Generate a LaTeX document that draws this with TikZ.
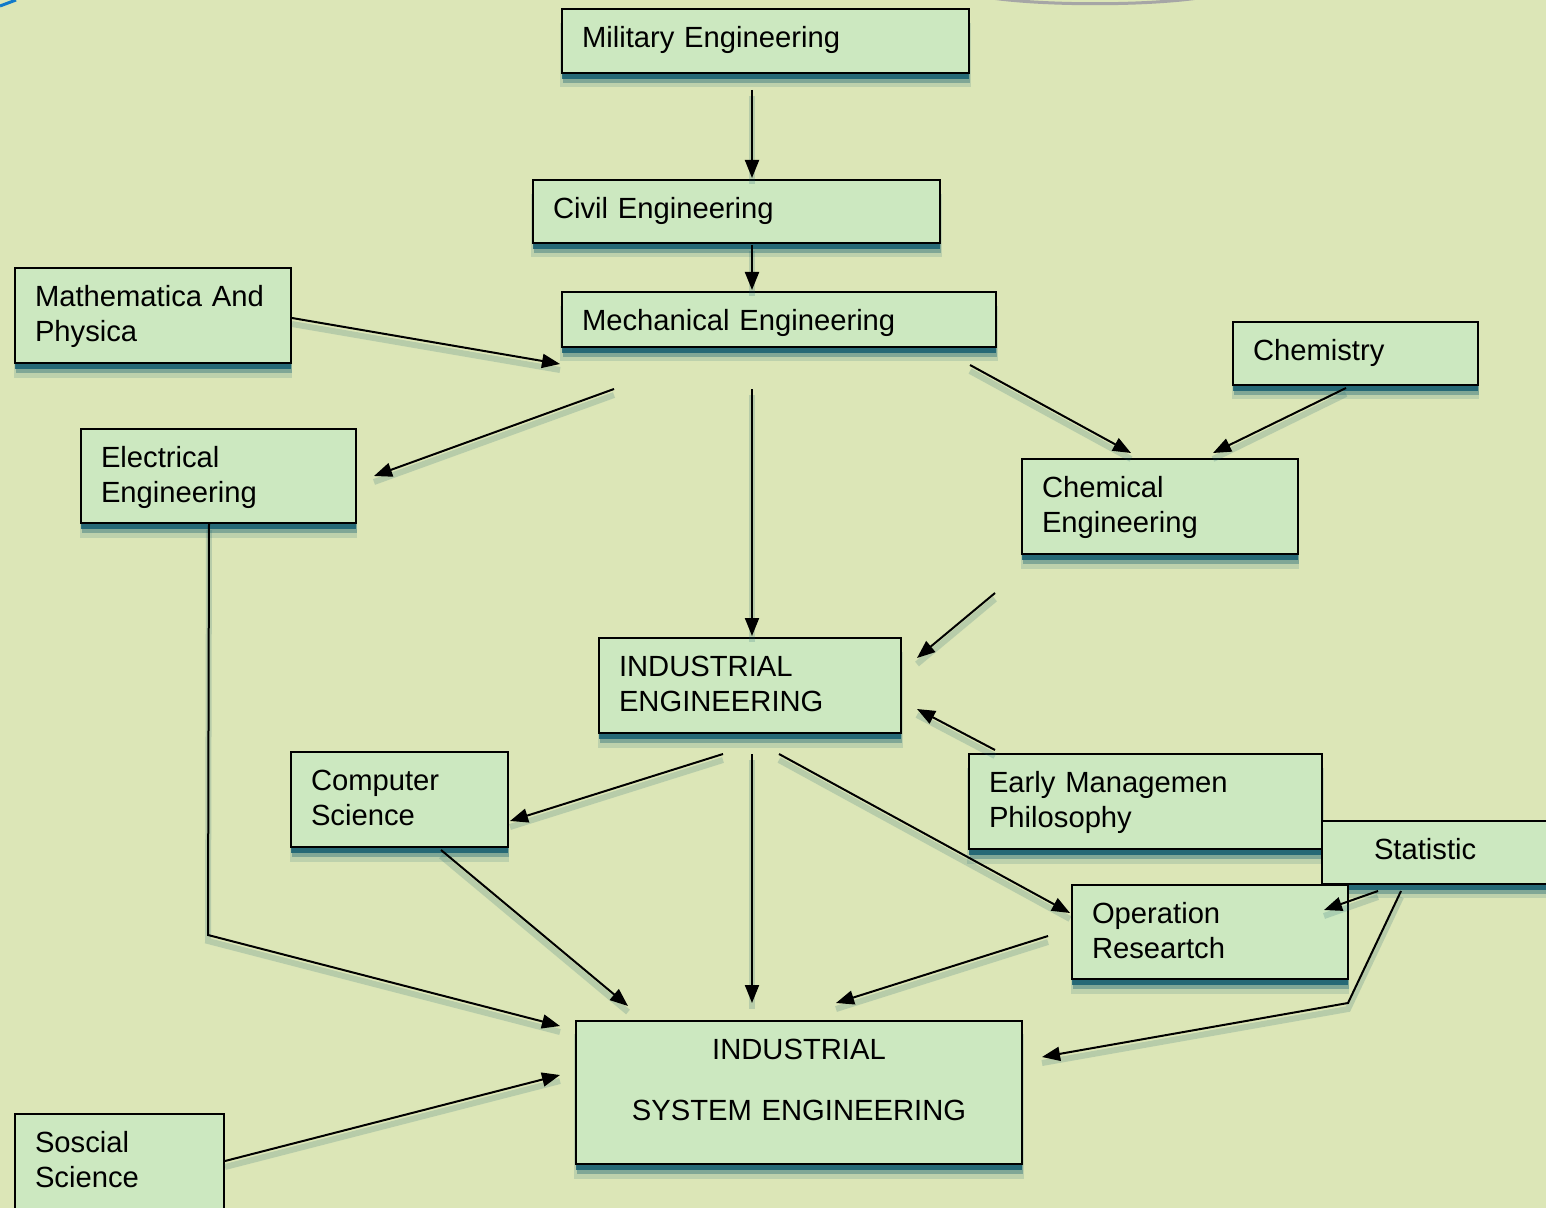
\documentclass[tikz,border=0pt]{standalone}
\usepackage{fontspec}
\setmainfont{Liberation Sans}
\usetikzlibrary{arrows.meta,shadows}
\definecolor{bgc}{RGB}{220,230,183}
\definecolor{boxc}{RGB}{204,232,192}
\definecolor{shc}{RGB}{16,90,110}
\tikzset{
  box/.style={draw=black, line width=1pt, fill=boxc, anchor=north west,
    inner xsep=10pt, inner ysep=0pt, align=left, text height=19.2pt,
    font=\fontsize{14.6}{17.5}\selectfont,
    general shadow={fill=shc, opacity=0.15, shadow xshift=0pt, shadow yshift=-7pt, shadow scale=1.01},
    general shadow={fill=shc, opacity=0.35, shadow xshift=0.5pt, shadow yshift=-5pt},
    general shadow={fill=shc, opacity=0.8, shadow xshift=0pt, shadow yshift=-3pt}},
  conn/.style={-{Triangle[length=9pt,width=7pt]}, line width=1pt,
    preaction={draw=shc, opacity=0.18, line width=3pt, arrows=-, transform canvas={yshift=-3pt}}}
}
\begin{document}
\begin{tikzpicture}[x=0.5pt,y=-0.5pt]
\useasboundingbox (0,0) rectangle (1546,1208);
\clip (0,0) rectangle (1546,1208);
\fill[bgc] (0,0) rectangle (1546,1208);
\draw[draw=gray!70, line width=1.5pt] (985,-3) .. controls (1040,6) and (1150,6) .. (1205,-3);
\draw[draw=cyan!60!blue, line width=1.5pt] (0,6) -- (16,0);

\node (mil) [box, text width=183.5pt, text depth=12.8pt] at (561,8) {Military Engineering};
\node (civ) [box, text width=183.5pt, text depth=12.3pt] at (532,179) {Civil Engineering};
\node (mech) [box, text width=197pt, text depth=8.3pt] at (561,291) {Mechanical Engineering};
\node (math) [box, text width=118pt, text depth=28.3pt] at (14,267) {Mathematica And\\Physica};
\node (chem) [box, text width=102.5pt, text depth=12.3pt] at (1232,321) {Chemistry};
\node (elec) [box, text width=117.5pt, text depth=27.8pt] at (80,428) {Electrical\\Engineering};
\node (cheng) [box, text width=118pt, text depth=28.3pt] at (1021,458) {Chemical\\Engineering};
\node (ie) [box, text width=131pt, text depth=28.3pt] at (598,637) {INDUSTRIAL\\ENGINEERING};
\node (cs) [box, text width=88.5pt, text depth=28.3pt] at (290,751) {Computer\\Science};
\node (early) [box, text width=156.5pt, text depth=28.3pt] at (968,753) {Early Managemen\\Philosophy};
\node (stat) [box, text width=110pt, text depth=12.3pt] at (1321,820) {\hspace*{16pt}Statistic};
\node (opr) [box, text width=118pt, text depth=27.8pt] at (1071,884) {Operation\\Researtch};
\node (ise) [box, align=center, text width=203pt, text depth=52.3pt] at (575,1020) {INDUSTRIAL\\[13pt]SYSTEM ENGINEERING};
\node (soc) [box, text width=84.5pt, text depth=31.8pt] at (14,1113) {Soscial\\Science};

\coordinate (b1) at (208,935);
\coordinate (b2) at (1348,1003);

\draw[conn] ([shift={(-13.5,16)}]mil.south) -- ([shift={(15.5,-1)}]civ.north);
\draw[conn] ([shift={(15.5,1)}]civ.south) -- ([shift={(-27,-1)}]mech.north);
\draw[conn] ([shift={(0,2.5)}]math.east) -- ([shift={(-1,16)}]mech.south west);
\draw[conn] ([shift={(53,41)}]mech.south west) -- ([shift={(17,0)}]elec.east);
\draw[conn] ([shift={(-27,41)}]mech.south) -- ([shift={(2,-1)}]ie.north);
\draw[conn] ([shift={(-27,17)}]mech.south east) -- ([shift={(-29,-5)}]cheng.north);
\draw[conn] ([shift={(-9.5,2)}]chem.south) -- ([shift={(53,-5)}]cheng.north);
\draw[conn] ([shift={(-26,38)}]cheng.south west) -- ([shift={(15,21)}]ie.north east);
\draw[conn] ([shift={(27,-3)}]early.north west) -- ([shift={(15,23.5)}]ie.east);
\draw[conn] ([shift={(-27,20)}]ie.south) -- ([shift={(1,21.5)}]cs.east);
\draw[conn] ([shift={(2,20)}]ie.south) -- ([shift={(-47,-17)}]ise.north);
\draw[conn] ([shift={(29,20)}]ie.south) -- ([shift={(-1,-19)}]opr.west);
\draw[conn] ([shift={(41.5,2)}]cs.south) -- ([shift={(53,-14)}]ise.north west);
\draw[conn] ([shift={(-9.5,0)}]elec.south) -- (b1) -- ([shift={(-15,6)}]ise.north west);
\draw[conn] ([shift={(0,-4)}]soc.east) -- ([shift={(-15,-17.5)}]ise.west);
\draw[conn] ([shift={(-23,4)}]opr.west) -- ([shift={(37,-17)}]ise.north);
\draw[conn] ([shift={(-74,6)}]stat.south) -- ([shift={(-25,26)}]opr.north east);
\draw[conn] ([shift={(-51,6)}]stat.south) -- (b2) -- ([shift={(19,-35.5)}]ise.east);
\end{tikzpicture}
\end{document}
